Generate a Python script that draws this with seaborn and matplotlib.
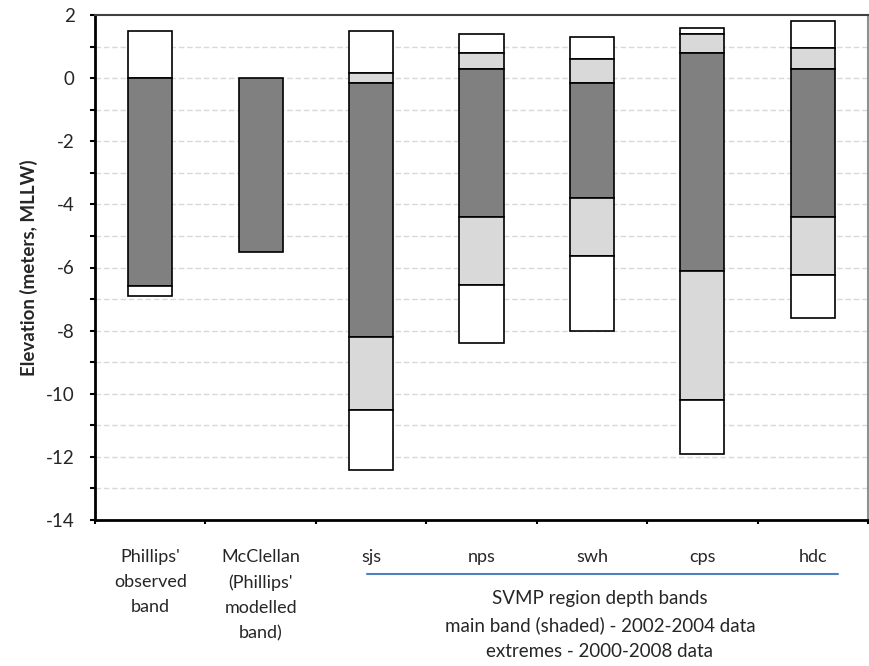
import matplotlib
matplotlib.use("Agg")
import matplotlib.pyplot as plt
import numpy as np
import pandas as pd
import seaborn as sns
from matplotlib.ticker import MultipleLocator, FixedLocator

# Categories (x axis)
regions = ["Phillips'\nobserved\nband", "McClellan\n(Phillips'\nmodelled\nband)",
           "sjs", "nps", "swh", "cps", "hdc"]

# Band boundaries (m, MLLW), top to bottom
ext_high  = [1.5,  0.0,  1.5,   1.4,  1.3,  1.6,  1.8]   # upper extreme
sub_high  = [0.0,  0.0,  0.15,  0.8,  0.6,  1.4,  0.95]  # upper edge of light band
main_high = [0.0,  0.0, -0.15,  0.3, -0.15, 0.8,  0.3]   # top of main (shaded) band
main_low  = [-6.6, -5.5, -8.2, -4.4, -3.8, -6.1, -4.4]   # bottom of main band
sub_low   = [-6.6, -5.5, -10.5, -6.55, -5.65, -10.2, -6.25]  # lower edge of light band
ext_low   = [-6.9, -5.5, -12.4, -8.4, -8.0, -11.9, -7.6]  # lower extreme

yticks = [2, 0, -2, -4, -6, -8, -10, -12, -14]

df = pd.DataFrame({
    "region": regions,
    "ext_high": ext_high, "sub_high": sub_high, "main_high": main_high,
    "main_low": main_low, "sub_low": sub_low, "ext_low": ext_low,
})

WHITE, LIGHT, DARK = "#ffffff", "#d9d9d9", "#808080"
layers = [
    ("ext_high", "sub_high", WHITE),
    ("sub_high", "main_high", LIGHT),
    ("main_high", "main_low", DARK),
    ("main_low", "sub_low", LIGHT),
    ("sub_low", "ext_low", WHITE),
]

sns.set_theme(style="white")
plt.rcParams["font.family"] = ["Lato", "DejaVu Sans"]
FS = 13

fig = plt.figure(figsize=(8.7, 6.66), dpi=100)
ax = fig.add_axes([95 / 870, 1 - 520 / 666, 773 / 870, 505 / 666])

for top, bot, col in layers:
    seg = df.assign(height=df[top] - df[bot], low=df[bot])
    seg = seg[seg["height"] > 1e-9]
    sns.barplot(data=seg, x="region", y="height", order=regions,
                color=col, saturation=1, width=0.4, errorbar=None,
                bottom=seg["low"].to_numpy(), edgecolor="black",
                linewidth=1.2, zorder=3, ax=ax)

ax.set_xlim(-0.5, len(regions) - 0.5)
ax.set_ylim(-14, 2)

# y axis ticks and dashed grid
ax.yaxis.set_major_locator(FixedLocator(yticks))
ax.yaxis.set_minor_locator(MultipleLocator(1))
ax.set_yticklabels([str(v) for v in yticks], fontsize=FS + 0.5)
for v in range(-13, 2):
    ax.axhline(v, color="#d9d9d9", lw=1, ls=(0, (4, 2)), zorder=1)
ax.tick_params(axis="y", which="both", direction="out", left=True,
               length=3.6, width=1.5, color="black", pad=11)

# x axis: labels at categories, tick marks between them
ax.set_xticks(range(len(regions)))
ax.set_xticklabels(regions, fontsize=FS, linespacing=1.7, va="top")
ax.tick_params(axis="x", which="major", length=0, pad=21)
ax.xaxis.set_minor_locator(FixedLocator(np.arange(-0.5, len(regions), 1.0)))
ax.tick_params(axis="x", which="minor", bottom=True, direction="out",
               length=3, width=1.5, color="black")

ax.set_xlabel("")
ax.set_ylabel("Elevation (meters, MLLW)", fontsize=FS + 0.5, fontweight="bold",
              labelpad=6)

for side in ("left", "bottom"):
    ax.spines[side].set_color("black")
    ax.spines[side].set_linewidth(2)
ax.spines["top"].set_color("#404040")
ax.spines["top"].set_linewidth(1.5)
ax.spines["right"].set_color("#909090")
ax.spines["right"].set_linewidth(1.5)

# group annotation under the SVMP regions
fig.add_artist(plt.Line2D([367 / 870, 838 / 870], [1 - 574 / 666, 1 - 574 / 666],
                          color="#4f81bd", lw=1.5))
fig.text(600 / 870, 1 - 625 / 666,
         "SVMP region depth bands\nmain band (shaded) - 2002-2004 data\nextremes - 2000-2008 data",
         ha="center", va="center", fontsize=FS + 0.5, linespacing=1.65)

fig.savefig("out.png", dpi=100)
